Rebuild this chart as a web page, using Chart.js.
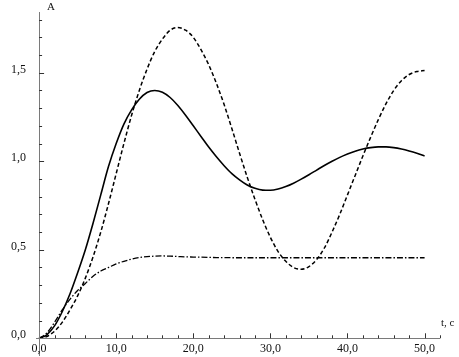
<!DOCTYPE html>
<html>
<head>
<meta charset="utf-8">
<script src="https://cdn.jsdelivr.net/npm/chart.js@4/dist/chart.umd.min.js"></script>
<style>
  html, body { margin: 0; padding: 0; background: #fff; }
  #wrap { width: 459px; height: 357px; position: relative; }
</style>
</head>
<body>
<div id="wrap"><canvas id="chart"></canvas></div>
<script>
// time, s
var tValues = [0,1,2,3,4,5,6,7,8,9,10,11,12,13,14,15,16,17,18,19,20,21,22,23,24,25,
  26,27,28,29,30,31,32,33,34,35,36,37,38,39,40,41,42,43,44,45,46,47,48,49,50];

var solidA = [0,0.02,0.07,0.15,0.25,0.37,0.50,0.65,0.81,0.97,1.10,1.21,1.29,1.35,1.388,1.40,
  1.39,1.36,1.315,1.26,1.20,1.14,1.08,1.025,0.975,0.93,0.895,0.866,0.847,0.837,0.836,0.843,
  0.857,0.876,0.899,0.924,0.950,0.976,1.000,1.022,1.041,1.057,1.069,1.077,1.081,1.081,1.077,
  1.069,1.058,1.045,1.030];

var dashedA = [0,0.01,0.04,0.09,0.16,0.24,0.34,0.46,0.60,0.76,0.93,1.10,1.26,1.40,1.52,1.62,
  1.69,1.74,1.755,1.74,1.70,1.63,1.545,1.44,1.32,1.185,1.045,0.91,0.785,0.67,0.57,0.49,
  0.435,0.40,0.39,0.405,0.445,0.51,0.60,0.70,0.81,0.92,1.03,1.135,1.235,1.325,1.40,1.455,
  1.49,1.507,1.512];

var dashDotA = [0,0.03,0.09,0.16,0.22,0.27,0.31,0.35,0.38,0.40,0.42,0.435,0.447,0.456,0.461,0.464,
  0.465,0.464,0.462,0.46,0.459,0.458,0.457,0.456,0.456,0.455,0.455,0.455,0.455,0.455,0.455,0.455,
  0.455,0.455,0.455,0.455,0.455,0.455,0.455,0.455,0.455,0.455,0.455,0.455,0.455,0.455,0.455,
  0.455,0.455,0.455,0.455];

var xTickLabels = ["0,0", "10,0", "20,0", "30,0", "40,0", "50,0"];
var yTickLabels = ["0,0", "0,5", "1,0", "1,5"];

function pts(ys) {
  return tValues.map(function (t, i) { return { x: t, y: ys[i] }; });
}

// draws axes, inward ticks and labels like the original plot
var axesPlugin = {
  id: "axes",
  afterDraw: function (chart) {
    var ctx = chart.ctx;
    var xs = chart.scales.x, ys = chart.scales.y;
    var x0 = xs.getPixelForValue(0), y0 = ys.getPixelForValue(0);
    ctx.save();
    ctx.strokeStyle = "#7a7a7a";
    ctx.lineWidth = 1;
    ctx.beginPath();
    ctx.moveTo(Math.round(x0) + 0.5, ys.getPixelForValue(ys.max));
    ctx.lineTo(Math.round(x0) + 0.5, ys.getPixelForValue(ys.min));
    ctx.moveTo(xs.getPixelForValue(xs.min), Math.round(y0) + 0.5);
    ctx.lineTo(xs.getPixelForValue(xs.max), Math.round(y0) + 0.5);
    ctx.stroke();

    ctx.strokeStyle = "#333";
    ctx.beginPath();
    for (var t = 2; t <= 52; t += 2) {
      var px = Math.round(xs.getPixelForValue(t)) + 0.5;
      var len = t % 10 === 0 ? 5 : 3;
      ctx.moveTo(px, y0);
      ctx.lineTo(px, y0 - len);
    }
    for (var k = 1; k <= 18; k++) {
      var py = Math.round(ys.getPixelForValue(k / 10)) + 0.5;
      var l2 = k % 5 === 0 ? 5 : 3;
      ctx.moveTo(x0, py);
      ctx.lineTo(x0 + l2, py);
    }
    ctx.stroke();

    ctx.fillStyle = "#111";
    ctx.font = "12px 'Liberation Serif', 'Times New Roman', serif";
    ctx.textAlign = "center";
    ctx.textBaseline = "middle";
    xTickLabels.forEach(function (lab, i) {
      ctx.fillText(lab, xs.getPixelForValue(i * 10), y0 + 11);
    });
    ctx.textAlign = "right";
    yTickLabels.forEach(function (lab, i) {
      ctx.fillText(lab, x0 - 13, ys.getPixelForValue(i * 0.5) - 3);
    });
    ctx.font = "11px 'Liberation Serif', 'Times New Roman', serif";
    ctx.textAlign = "left";
    ctx.fillText("A", x0 + 8, 7);
    ctx.fillText("t, c", xs.getPixelForValue(xs.max) + 1, y0 - 15);
    ctx.restore();
  }
};

new Chart(document.getElementById("chart"), {
  type: "line",
  data: {
    datasets: [
      {
        label: "solid",
        data: pts(solidA),
        borderColor: "#000",
        borderWidth: 1.6,
        pointRadius: 0,
        fill: false,
        cubicInterpolationMode: "monotone"
      },
      {
        label: "dashed",
        data: pts(dashedA),
        borderColor: "#000",
        borderWidth: 1.5,
        borderDash: [4, 2.5],
        pointRadius: 0,
        fill: false,
        cubicInterpolationMode: "monotone"
      },
      {
        label: "dash-dot",
        data: pts(dashDotA),
        borderColor: "#000",
        borderWidth: 1.3,
        borderDash: [6, 2, 1.5, 2],
        pointRadius: 0,
        fill: false,
        cubicInterpolationMode: "monotone"
      }
    ]
  },
  options: {
    responsive: true,
    maintainAspectRatio: false,
    animation: false,
    layout: { padding: { left: 36, right: 19, top: 12, bottom: 1 } },
    plugins: { legend: { display: false }, tooltip: { enabled: false } },
    scales: {
      x: { type: "linear", min: -0.4, max: 52, display: false },
      y: { min: -0.1, max: 1.843, display: false }
    }
  },
  plugins: [axesPlugin]
});
</script>
</body>
</html>
